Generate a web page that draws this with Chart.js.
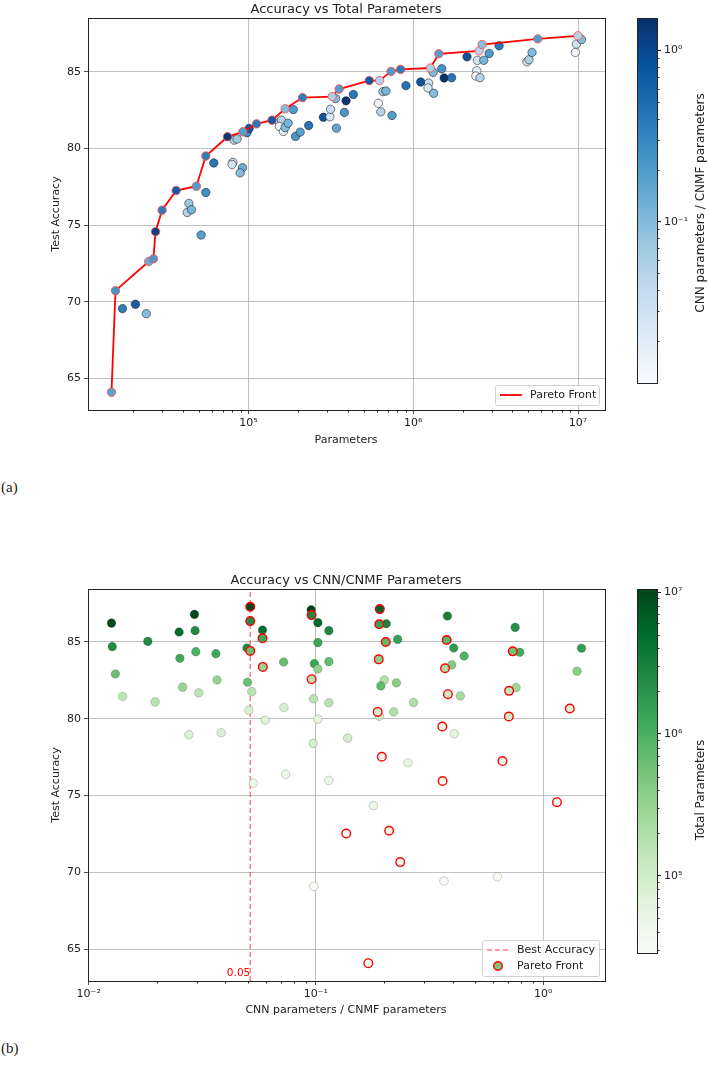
<!DOCTYPE html>
<html lang="en">
<head>
<meta charset="UTF-8">
<title>Accuracy vs Parameters</title>
<script src="https://cdn.jsdelivr.net/npm/chart.js@4.4.0/dist/chart.umd.min.js"></script>
<style>
    * { margin: 0; padding: 0; box-sizing: border-box; }
    body {
        width: 708px; height: 1069px; position: relative; overflow: hidden;
        background: #fff; color: #222; font-family: 'DejaVu Sans', sans-serif;
    }
    canvas { position: absolute; }
    .txt { position: absolute; white-space: nowrap; transform: translate(-50%, -50%); }
    .rot { transform: translate(-50%, -50%) rotate(-90deg); }
    .title { font-size: 13px; }
    .lbl { font-size: 11px; }
    .cbl { font-size: 12px; }
    .cap { font-family: 'Liberation Serif', serif; font-size: 15px; transform: translate(0, -50%); }
</style>
</head>
<body>
    <canvas id="chartA" width="620" height="460" style="left:0;top:0"></canvas>
    <canvas id="barA" width="88" height="400" style="left:620px;top:0"></canvas>
    <canvas id="chartB" width="620" height="460" style="left:0;top:571px"></canvas>
    <canvas id="barB" width="88" height="400" style="left:620px;top:571px"></canvas>

    <div class="txt title" style="left:346px;top:8px">Accuracy vs Total Parameters</div>
    <div class="txt lbl" style="left:346px;top:439px">Parameters</div>
    <div class="txt lbl rot" style="left:55px;top:214px">Test Accuracy</div>
    <div class="txt cbl rot" style="left:700px;top:203px">CNN parameters / CNMF parameters</div>
    <div class="txt cap" style="left:1px;top:487px">(a)</div>

    <div class="txt title" style="left:346px;top:579px">Accuracy vs CNN/CNMF Parameters</div>
    <div class="txt lbl" style="left:346px;top:1009px">CNN parameters / CNMF parameters</div>
    <div class="txt lbl rot" style="left:55px;top:785px">Test Accuracy</div>
    <div class="txt cbl rot" style="left:700px;top:790px">Total Parameters</div>
    <div class="txt cap" style="left:1px;top:1048px">(b)</div>

<script>
// ---- panel (a): all models, x = total parameters, colour = CNN/CNMF ratio
const aParams = [17200, 20600, 24000, 42500, 43500, 45100, 51600, 55100, 61600, 80400,
    79500, 92000, 89000, 81900, 85300, 98000, 101000, 154000, 158500, 154000,
    163000, 167000, 174000, 187000, 193000, 206000, 232000, 285000, 312000, 315000,
    338000, 342000, 391000, 433000, 382000, 614000, 636000, 655000, 683000, 743000,
    903000, 1110000, 1240000, 1230000, 1330000, 1320000, 1490000, 1540000, 1710000, 2120000,
    2450000, 2430000, 2400000, 2540000, 2680000, 2890000, 3320000, 4900000, 5040000, 5260000,
    9640000, 9770000, 10500000];
const aAccuracy = [69.55, 69.83, 69.22, 75.82, 76.41, 76.0, 74.35, 77.12, 79.05, 79.09,
    78.95, 78.74, 78.4, 80.54, 80.61, 81.02, 81.3, 81.71, 81.84, 81.43,
    81.1, 81.36, 81.64, 82.53, 80.78, 81.06, 81.49, 82.03, 82.06, 82.55,
    83.25, 81.32, 83.1, 83.51, 82.34, 82.94, 82.38, 83.7, 83.74, 82.14,
    84.09, 84.33, 84.26, 83.94, 83.59, 84.96, 85.19, 84.59, 84.61, 85.97,
    85.74, 85.06, 84.72, 84.61, 85.74, 86.19, 86.69, 85.65, 85.78, 86.26,
    86.26, 86.8, 87.1];
const aRatio = [0.366, 0.629, 0.098, 0.053, 0.0735, 0.114, 0.179, 0.254, 0.406, 0.0383,
    0.0276, 0.138, 0.0973, 0.0507, 0.0723, 0.269, 0.706, 0.0305, 0.0522, 0.0141,
    0.0196, 0.0977, 0.114, 0.2, 0.22, 0.18, 0.432, 0.76, 0.0259, 0.0367,
    0.102, 0.15, 1.41, 0.396, 0.226, 0.0131, 0.05, 0.0721, 0.114, 0.193,
    0.449, 0.789, 0.0363, 0.0252, 0.0984, 0.102, 0.229, 1.475, 0.404, 0.753,
    0.0294, 0.0182, 0.0127, 0.0497, 0.116, 0.204, 0.379, 0.025, 0.0582, 0.102,
    0.0126, 0.0292, 0.0953];

const aParetoParams = [14750, 15600, 24800, 26500, 27300, 29900, 36400, 48300, 55100, 74600,
    92500, 112000, 139000, 167000, 213000, 322000, 355000, 541000, 625000, 733000,
    838000, 1270000, 1430000, 2510000, 2620000, 5700000, 10000000];
const aParetoAccuracy = [64.1, 70.72, 72.62, 72.8, 74.57, 75.97, 77.25, 77.53, 79.5, 80.76,
    81.08, 81.6, 81.84, 82.58, 83.31, 83.38, 83.87, 84.42, 84.42, 85.02,
    85.15, 85.24, 86.17, 86.36, 86.77, 87.14, 87.34];
const aParetoRatio = [0.17, 0.235, 0.136, 0.21, 1.15, 0.361, 0.662, 0.195, 0.36, 1.31,
    0.187, 0.381, 0.708, 0.0957, 0.37, 0.0584, 0.189, 0.735, 0.051, 0.203,
    0.376, 0.058, 0.19, 0.051, 0.0957, 0.191, 0.0514];

// ---- panel (b): x = CNN/CNMF ratio, colour = total parameters
const bRatio = [0.0126, 0.0127, 0.0131, 0.0141, 0.0182, 0.0196, 0.025, 0.0252, 0.0259, 0.0276,
    0.0292, 0.0294, 0.0296, 0.0305, 0.0363, 0.0367, 0.0383, 0.0497, 0.05, 0.0507,
    0.0522, 0.053, 0.0582, 0.0598, 0.0721, 0.0723, 0.0735, 0.0953, 0.0984, 0.0977,
    0.0973, 0.098, 0.102, 0.102, 0.102, 0.102, 0.114, 0.114, 0.114, 0.114,
    0.138, 0.179, 0.204, 0.229, 0.2, 0.193, 0.226, 0.269, 0.19, 0.22,
    0.254, 0.379, 0.404, 0.449, 0.396, 0.432, 0.406, 0.366, 0.753, 0.789,
    0.76, 0.629, 1.475, 1.41];
const bAccuracy = [86.23, 84.7, 82.92, 81.45, 85.04, 81.1, 85.65, 83.94, 82.06, 78.96,
    86.8, 85.74, 84.37, 81.69, 84.24, 82.53, 79.09, 84.61, 82.38, 80.56,
    81.77, 75.82, 85.78, 79.91, 83.7, 80.74, 76.39, 87.1, 83.59, 81.3,
    78.4, 69.09, 86.26, 84.96, 83.25, 79.98, 85.74, 83.72, 81.04, 75.99,
    78.74, 74.35, 86.19, 85.17, 82.53, 82.14, 82.34, 81.06, 80.17, 80.45,
    77.14, 86.69, 84.61, 84.09, 83.51, 81.49, 79.03, 69.44, 85.95, 84.33,
    82.03, 69.72, 84.59, 83.1];
const bParams = [9640000, 2400000, 614000, 154000, 2430000, 163000, 4900000, 1230000, 312000, 79500,
    9770000, 2450000, 1000000, 154000, 1240000, 315000, 80400, 2540000, 636000, 81900,
    158500, 42500, 5040000, 70000, 655000, 85300, 43500, 10500000, 1330000, 167000,
    89000, 24000, 5260000, 1320000, 338000, 60000, 2680000, 683000, 174000, 45100,
    92000, 51600, 2890000, 1490000, 187000, 743000, 382000, 206000, 120000, 193000,
    55100, 3320000, 1710000, 903000, 433000, 232000, 61600, 17200, 2120000, 1110000,
    285000, 20600, 1540000, 391000];

const bParetoRatio = [0.0514, 0.0514, 0.0514, 0.0582, 0.0584, 0.0957, 0.0957, 0.191, 0.19, 0.203,
    0.189, 0.187, 0.195, 0.376, 0.37, 0.381, 0.36, 0.361, 0.735, 0.708,
    0.706, 0.662, 1.31, 1.15, 0.136, 0.21, 0.235, 0.17];
const bParetoAccuracy = [87.29, 86.36, 84.42, 85.24, 83.38, 86.75, 82.58, 87.14, 86.15, 85.0,
    83.87, 80.45, 77.53, 85.13, 83.29, 81.6, 79.5, 75.95, 84.39, 81.82,
    80.15, 77.25, 80.67, 74.57, 72.53, 72.71, 70.67, 64.09];
const bParetoParams = [10000000, 2510000, 625000, 1270000, 322000, 2620000, 167000, 5700000, 1430000, 733000,
    355000, 92500, 48300, 838000, 213000, 112000, 55100, 29900, 541000, 139000,
    101000, 36400, 74600, 27300, 24800, 26500, 15600, 14750];

// ticks and colour-bar ranges
const accTicks = [65, 70, 75, 80, 85];
const paramTicks = [1e5, 1e6, 1e7];
const ratioTicks = [1e-2, 1e-1, 1e0];
const ratioBarTicks = [1e-1, 1e0];
const paramBarTicks = [1e5, 1e6, 1e7];
const ratioNorm = [0.0114, 1.55];
const paramNorm = [28500, 10500000];

const BLUES = ['#f7fbff', '#deebf7', '#c6dbef', '#9ecae1', '#6baed6', '#4292c6', '#2171b5', '#08519c', '#08306b'];
const GREENS = ['#f7fcf5', '#e5f5e0', '#c7e9c0', '#a1d99b', '#74c476', '#41ab5d', '#238b45', '#006d2c', '#00441b'];

function hexRgb(h) {
    return [parseInt(h.slice(1, 3), 16), parseInt(h.slice(3, 5), 16), parseInt(h.slice(5, 7), 16)];
}

function cmap(stops, t) {
    t = Math.max(0, Math.min(1, t));
    const pos = t * (stops.length - 1);
    const i = Math.min(Math.floor(pos), stops.length - 2);
    const f = pos - i;
    const a = hexRgb(stops[i]), b = hexRgb(stops[i + 1]);
    const c = a.map((v, k) => Math.round(v + (b[k] - v) * f));
    return 'rgb(' + c.join(',') + ')';
}

function logNorm(v, range) {
    const lo = Math.log10(range[0]), hi = Math.log10(range[1]);
    return (Math.log10(v) - lo) / (hi - lo);
}

const blueOf = v => cmap(BLUES, logNorm(v, ratioNorm));
const greenOf = v => cmap(GREENS, logNorm(v, paramNorm));

function logLimits(vals) {
    const lo = Math.log10(Math.min(...vals)), hi = Math.log10(Math.max(...vals));
    const m = (hi - lo) * 0.05;
    return [10 ** (lo - m), 10 ** (hi + m)];
}

function linLimits(vals) {
    const lo = Math.min(...vals), hi = Math.max(...vals);
    const m = (hi - lo) * 0.05;
    return [lo - m, hi + m];
}

const SUP = { '0': '⁰', '1': '¹', '2': '²', '3': '³', '4': '⁴', '5': '⁵', '6': '⁶', '7': '⁷', '8': '⁸', '9': '⁹', '-': '⁻' };
function powLabel(v) {
    const e = Math.round(Math.log10(v));
    return '10' + String(e).split('').map(c => SUP[c]).join('');
}

function points(xs, ys) {
    return xs.map((x, i) => ({ x: x, y: ys[i] }));
}

Chart.defaults.font.family = "'DejaVu Sans', sans-serif";
Chart.defaults.font.size = 11;
Chart.defaults.color = '#222';

// small minor tick marks on log axes, and the black frame round the plot
const framePlugin = {
    id: 'frame',
    afterDraw(chart, args, opts) {
        const ctx = chart.ctx, a = chart.chartArea;
        ctx.save();
        ctx.strokeStyle = '#222';
        ctx.lineWidth = 1;
        (opts.minor || []).forEach(id => {
            const s = chart.scales[id];
            const e0 = Math.floor(Math.log10(s.min)), e1 = Math.ceil(Math.log10(s.max));
            for (let e = e0; e <= e1; e++) {
                for (let k = 2; k <= 9; k++) {
                    const v = k * 10 ** e;
                    if (v < s.min || v > s.max) continue;
                    const p = Math.round(s.getPixelForValue(v)) + 0.5;
                    ctx.beginPath();
                    if (s.isHorizontal()) {
                        ctx.moveTo(p, a.bottom); ctx.lineTo(p, a.bottom + 2.5);
                    } else {
                        ctx.moveTo(a.right, p); ctx.lineTo(a.right + 2.5, p);
                    }
                    ctx.stroke();
                }
            }
        });
        ctx.strokeRect(Math.round(a.left) + 0.5, Math.round(a.top) + 0.5,
            Math.round(a.right - a.left), Math.round(a.bottom - a.top));
        ctx.restore();
    }
};

// gradient fill for the colour bars
const barPlugin = {
    id: 'cbar',
    beforeDatasetsDraw(chart, args, opts) {
        if (!opts.stops) return;
        const ctx = chart.ctx, a = chart.chartArea;
        const g = ctx.createLinearGradient(0, a.bottom, 0, a.top);
        opts.stops.forEach((c, i) => g.addColorStop(i / (opts.stops.length - 1), c));
        ctx.fillStyle = g;
        ctx.fillRect(a.left, a.top, a.right - a.left, a.bottom - a.top);
    }
};

// legends drawn inside the lower right corner of the plot
const legendPlugin = {
    id: 'boxLegend',
    afterDraw(chart, args, opts) {
        if (!opts.items) return;
        const ctx = chart.ctx, a = chart.chartArea;
        const rowH = 16, w = opts.width, h = opts.items.length * rowH + 4;
        const x0 = a.right - 6 - w, y0 = a.bottom - 5 - h;
        ctx.save();
        ctx.fillStyle = 'rgba(255,255,255,0.85)';
        ctx.strokeStyle = '#d0d0d0';
        ctx.lineWidth = 1;
        ctx.beginPath();
        ctx.roundRect(x0 + 0.5, y0 + 0.5, w, h, 2);
        ctx.fill();
        ctx.stroke();
        ctx.font = "11px 'DejaVu Sans'";
        ctx.textBaseline = 'middle';
        opts.items.forEach((it, i) => {
            const cy = y0 + 2 + rowH * i + rowH / 2;
            if (it.kind === 'line') {
                ctx.strokeStyle = it.color;
                ctx.lineWidth = it.width;
                ctx.setLineDash(it.dash || []);
                ctx.beginPath();
                ctx.moveTo(x0 + 5, cy); ctx.lineTo(x0 + 27, cy);
                ctx.stroke();
                ctx.setLineDash([]);
            } else {
                ctx.fillStyle = it.fill;
                ctx.strokeStyle = it.color;
                ctx.lineWidth = 1.4;
                ctx.beginPath();
                ctx.arc(x0 + 16, cy, 4.3, 0, Math.PI * 2);
                ctx.fill();
                ctx.stroke();
            }
            ctx.fillStyle = '#222';
            ctx.fillText(it.text, x0 + 35, cy + 0.5);
        });
        ctx.restore();
    }
};

// red value label at the foot of the best-accuracy line
const bestLabelPlugin = {
    id: 'bestLabel',
    afterDatasetsDraw(chart, args, opts) {
        if (opts.value === undefined) return;
        const ctx = chart.ctx, a = chart.chartArea;
        const x = chart.scales.x.getPixelForValue(opts.value);
        ctx.save();
        ctx.fillStyle = '#ff0000';
        ctx.font = "10.5px 'DejaVu Sans'";
        ctx.textAlign = 'right';
        ctx.textBaseline = 'bottom';
        ctx.fillText(opts.value.toFixed(2), x, a.bottom - 2);
        ctx.restore();
    }
};

Chart.register(framePlugin, barPlugin, legendPlugin, bestLabelPlugin);

function axisX(limits, ticks) {
    return {
        type: 'logarithmic', min: limits[0], max: limits[1],
        afterBuildTicks: s => { s.ticks = ticks.map(v => ({ value: v })); },
        afterFit: s => { s.height = 50; },
        ticks: { callback: v => powLabel(v), padding: 3, maxRotation: 0, autoSkip: false },
        grid: { color: '#b0b0b0', lineWidth: 0.8, tickColor: '#222', tickLength: 4 },
        border: { display: false }
    };
}

function axisY(limits) {
    return {
        type: 'linear', min: limits[0], max: limits[1],
        afterBuildTicks: s => { s.ticks = accTicks.map(v => ({ value: v })); },
        afterFit: s => { s.width = 88; },
        ticks: { padding: 3 },
        grid: { color: '#b0b0b0', lineWidth: 0.8, tickColor: '#222', tickLength: 4 },
        border: { display: false }
    };
}

const baseOptions = {
    responsive: false, animation: false, devicePixelRatio: 1,
    events: [],
    layout: { padding: { left: 0, right: 15, top: 18, bottom: 0 } }
};

// ---- chart (a)
const aXLim = logLimits(aParams.concat(aParetoParams));
const aYLim = linLimits(aAccuracy.concat(aParetoAccuracy));

new Chart(document.getElementById('chartA'), {
    type: 'scatter',
    data: {
        datasets: [{
            label: 'Pareto Front',
            data: points(aParetoParams, aParetoAccuracy),
            showLine: true,
            borderColor: '#ff0000',
            borderWidth: 1.8,
            pointRadius: 4.2,
            pointBackgroundColor: aParetoRatio.map(blueOf),
            pointBorderColor: 'rgba(255,70,70,0.8)',
            pointBorderWidth: 1,
            order: 0
        }, {
            label: 'models',
            data: points(aParams, aAccuracy),
            pointRadius: 4.2,
            pointBackgroundColor: aRatio.map(blueOf),
            pointBorderColor: 'rgba(20,20,20,0.9)',
            pointBorderWidth: 0.6,
            order: 1
        }]
    },
    options: Object.assign({}, baseOptions, {
        scales: { x: axisX(aXLim, paramTicks), y: axisY(aYLim) },
        plugins: {
            legend: { display: false }, tooltip: { enabled: false },
            frame: { minor: ['x'] },
            boxLegend: { width: 104, items: [{ kind: 'line', color: '#ff0000', width: 1.8, text: 'Pareto Front' }] }
        }
    })
});

// ---- chart (b)
const bXLim = logLimits(bRatio.concat(bParetoRatio));
const bYLim = linLimits(bAccuracy.concat(bParetoAccuracy));
const bestIdx = bParetoAccuracy.indexOf(Math.max(...bParetoAccuracy));
const bestRatio = bParetoRatio[bestIdx];

new Chart(document.getElementById('chartB'), {
    type: 'scatter',
    data: {
        datasets: [{
            label: 'Pareto Front',
            data: points(bParetoRatio, bParetoAccuracy),
            pointRadius: 4.3,
            pointBackgroundColor: bParetoParams.map(greenOf),
            pointBorderColor: '#ff0000',
            pointBorderWidth: 1.4,
            order: 0
        }, {
            label: 'models',
            data: points(bRatio, bAccuracy),
            pointRadius: 4.3,
            pointBackgroundColor: bParams.map(greenOf),
            pointBorderColor: 'rgba(0,0,0,0.3)',
            pointBorderWidth: 0.6,
            order: 1
        }, {
            label: 'Best Accuracy',
            data: [{ x: bestRatio, y: bYLim[0] }, { x: bestRatio, y: bYLim[1] }],
            showLine: true,
            pointRadius: 0,
            borderColor: 'rgba(255,0,0,0.5)',
            borderWidth: 1.5,
            borderDash: [5, 3],
            order: 2
        }]
    },
    options: Object.assign({}, baseOptions, {
        scales: { x: axisX(bXLim, ratioTicks), y: axisY(bYLim) },
        plugins: {
            legend: { display: false }, tooltip: { enabled: false },
            frame: { minor: ['x'] },
            bestLabel: { value: bestRatio },
            boxLegend: {
                width: 117,
                items: [
                    { kind: 'line', color: 'rgba(255,0,0,0.5)', width: 1.5, dash: [5, 3], text: 'Best Accuracy' },
                    { kind: 'marker', color: '#ff0000', fill: '#7cc47f', text: 'Pareto Front' }
                ]
            }
        }
    })
});

// ---- colour bars
function colorBar(id, range, ticks, stops, bottomPad) {
    new Chart(document.getElementById(id), {
        type: 'scatter',
        data: { datasets: [{ data: [] }] },
        options: {
            responsive: false, animation: false, devicePixelRatio: 1, events: [],
            layout: { padding: { left: 17, right: 0, top: 18, bottom: bottomPad } },
            scales: {
                x: { display: false },
                y: {
                    type: 'logarithmic', position: 'right', min: range[0], max: range[1],
                    afterBuildTicks: s => { s.ticks = ticks.map(v => ({ value: v })); },
                    afterFit: s => { s.width = 51; },
                    ticks: { callback: v => powLabel(v), padding: 3 },
                    grid: { drawOnChartArea: false, tickColor: '#222', tickLength: 4 },
                    border: { display: false }
                }
            },
            plugins: {
                legend: { display: false }, tooltip: { enabled: false },
                frame: { minor: ['y'] },
                cbar: { stops: stops }
            }
        }
    });
}

colorBar('barA', ratioNorm, ratioBarTicks, BLUES, 17);
colorBar('barB', paramNorm, paramBarTicks, GREENS, 18);
</script>
</body>
</html>
